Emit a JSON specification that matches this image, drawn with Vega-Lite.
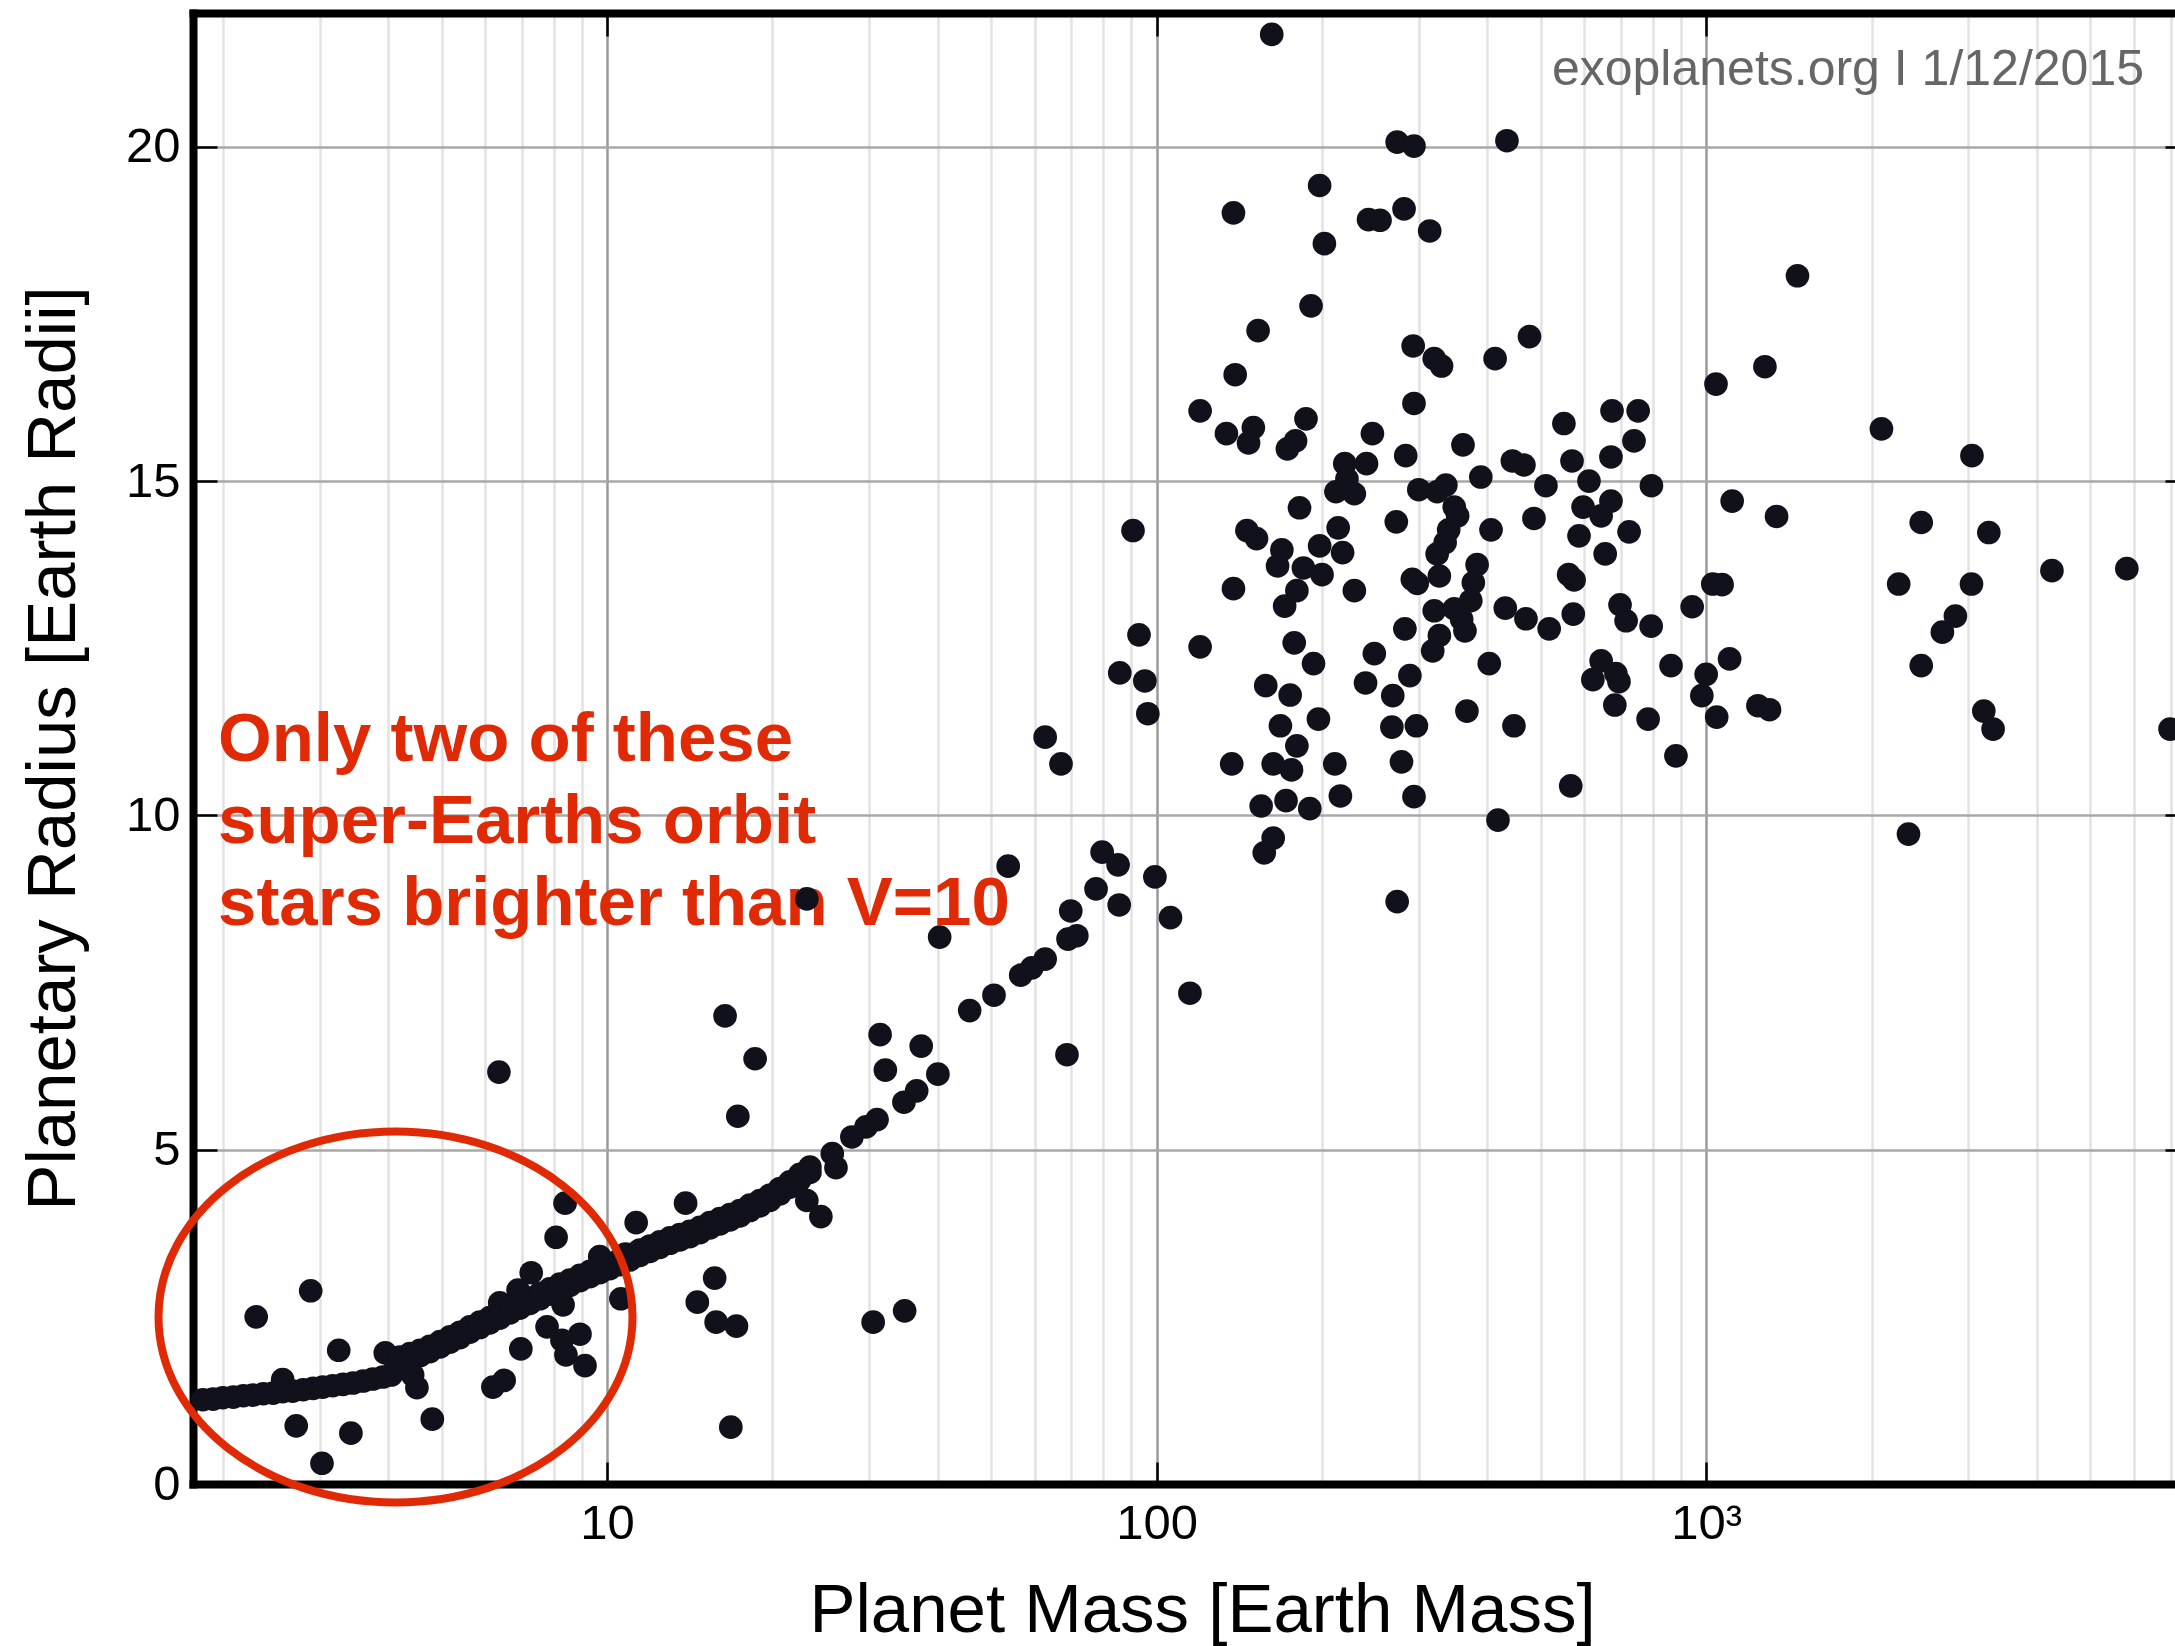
{
  "$schema": "https://vega.github.io/schema/vega-lite/v6.json",
  "width": 1982,
  "height": 1471,
  "autosize": {"type": "none"},
  "padding": {"left": 193, "top": 13, "right": 0, "bottom": 162},
  "background": "white",
  "config": {"view": {"stroke": null}, "font": "Liberation Sans"},
  "datasets": {
    "pts": [
      {"m":162,"r":21.68},{"m":274,"r":20.07},{"m":294,"r":20.01},{"m":434,"r":20.09},{"m":198,"r":19.42},{"m":138,"r":19.01},{"m":243,"r":18.91},{"m":255,"r":18.9},{"m":282,"r":19.07},{"m":314,"r":18.74},{"m":202,"r":18.55},{"m":191,"r":17.62},{"m":153,"r":17.25},{"m":477,"r":17.16},{"m":293,"r":17.02},{"m":320,"r":16.83},{"m":330,"r":16.72},{"m":413,"r":16.83},{"m":139,"r":16.59},{"m":120,"r":16.05},{"m":134,"r":15.71},{"m":150,"r":15.8},{"m":147,"r":15.57},{"m":187,"r":15.93},{"m":179,"r":15.6},{"m":173,"r":15.48},{"m":247,"r":15.71},{"m":294,"r":16.16},{"m":284,"r":15.38},{"m":220,"r":15.26},{"m":241,"r":15.26},{"m":361,"r":15.54},{"m":551,"r":15.86},{"m":674,"r":16.05},{"m":752,"r":16.05},{"m":739,"r":15.6},{"m":671,"r":15.36},{"m":570,"r":15.3},{"m":444,"r":15.3},{"m":466,"r":15.24},{"m":389,"r":15.06},{"m":336,"r":14.94},{"m":300,"r":14.87},{"m":324,"r":14.84},{"m":511,"r":14.93},{"m":612,"r":15.0},{"m":795,"r":14.93},{"m":212,"r":14.84},{"m":229,"r":14.81},{"m":222,"r":15.03},{"m":182,"r":14.6},{"m":597,"r":14.61},{"m":671,"r":14.7},{"m":644,"r":14.48},{"m":348,"r":14.61},{"m":353,"r":14.48},{"m":273,"r":14.39},{"m":214,"r":14.3},{"m":406,"r":14.27},{"m":486,"r":14.44},{"m":724,"r":14.24},{"m":587,"r":14.18},{"m":146,"r":14.26},{"m":152,"r":14.14},{"m":340,"r":14.27},{"m":198,"r":14.03},{"m":169,"r":13.97},{"m":1042,"r":16.45},
      {"m":218,"r":13.93},{"m":335,"r":14.08},{"m":324,"r":13.91},{"m":166,"r":13.73},{"m":185,"r":13.7},{"m":200,"r":13.6},{"m":138,"r":13.39},{"m":180,"r":13.36},{"m":171,"r":13.13},{"m":229,"r":13.36},{"m":292,"r":13.53},{"m":298,"r":13.47},{"m":327,"r":13.58},{"m":383,"r":13.75},{"m":377,"r":13.48},{"m":373,"r":13.21},{"m":320,"r":13.06},{"m":348,"r":13.09},{"m":359,"r":12.93},{"m":364,"r":12.76},{"m":327,"r":12.69},{"m":318,"r":12.46},{"m":283,"r":12.79},{"m":431,"r":13.1},{"m":470,"r":12.94},{"m":518,"r":12.79},{"m":573,"r":13.01},{"m":562,"r":13.6},{"m":575,"r":13.52},{"m":697,"r":13.15},{"m":715,"r":12.91},{"m":794,"r":12.83},{"m":943,"r":13.12},{"m":1028,"r":13.46},{"m":1069,"r":13.45},{"m":655,"r":13.91},{"m":403,"r":12.27},{"m":644,"r":12.31},{"m":622,"r":12.03},{"m":685,"r":12.12},{"m":694,"r":12.0},{"m":682,"r":11.65},{"m":863,"r":12.24},{"m":1000,"r":12.11},{"m":982,"r":11.79},{"m":1045,"r":11.47},{"m":784,"r":11.44},{"m":881,"r":10.89},{"m":567,"r":10.44},{"m":447,"r":11.34},{"m":367,"r":11.56},{"m":418,"r":9.93},{"m":289,"r":12.09},{"m":269,"r":11.79},{"m":249,"r":12.42},{"m":240,"r":11.98},{"m":268,"r":11.32},{"m":297,"r":11.34},{"m":279,"r":10.8},{"m":294,"r":10.28},{"m":274,"r":8.71},{"m":178,"r":12.58},{"m":193,"r":12.27},{"m":120,"r":12.52},{"m":158,"r":11.94},{"m":175,"r":11.8},{"m":197,"r":11.44},{"m":168,"r":11.34},{"m":180,"r":11.04},{"m":137,"r":10.77},{"m":163,"r":10.77},{"m":176,"r":10.68},{"m":211,"r":10.77},{"m":155,"r":10.14},{"m":172,"r":10.22},{"m":190,"r":10.1},{"m":216,"r":10.29},{"m":163,"r":9.66},{"m":157,"r":9.44},{"m":106,"r":8.47},{"m":115,"r":7.34},
      {"m":1466,"r":18.07},{"m":1279,"r":16.71},{"m":2084,"r":15.78},{"m":3045,"r":15.38},{"m":1115,"r":14.7},{"m":1343,"r":14.47},{"m":2462,"r":14.38},{"m":3268,"r":14.23},{"m":4257,"r":13.66},{"m":5826,"r":13.69},{"m":2240,"r":13.46},{"m":3039,"r":13.46},{"m":2841,"r":12.98},{"m":2690,"r":12.74},{"m":2462,"r":12.24},{"m":3200,"r":11.56},{"m":3327,"r":11.29},{"m":6982,"r":11.29},{"m":2334,"r":9.72},{"m":1103,"r":12.34},{"m":1242,"r":11.64},{"m":1304,"r":11.58},
      {"m":85.7,"r":12.13},{"m":95.2,"r":12.01},{"m":96.4,"r":11.52},{"m":62.7,"r":11.17},{"m":67,"r":10.77},{"m":23.1,"r":8.75},{"m":53.7,"r":9.24},{"m":79.6,"r":9.45},{"m":85.1,"r":9.26},{"m":99.3,"r":9.08},{"m":77.6,"r":8.9},{"m":85.5,"r":8.66},{"m":69.8,"r":8.57},{"m":69,"r":8.15},{"m":71.6,"r":8.2},{"m":62.7,"r":7.85},{"m":59.3,"r":7.72},{"m":56.6,"r":7.61},{"m":50.6,"r":7.31},{"m":45.7,"r":7.08},{"m":40.3,"r":8.18},{"m":68.7,"r":6.42},{"m":16.4,"r":7.0},{"m":18.6,"r":6.36},{"m":17.3,"r":5.5},{"m":31.4,"r":6.72},{"m":32.1,"r":6.19},{"m":37.3,"r":6.55},{"m":40,"r":6.13},{"m":36.6,"r":5.88},{"m":34.7,"r":5.71},{"m":31,"r":5.45},{"m":29.6,"r":5.34},{"m":27.9,"r":5.19},{"m":25.7,"r":4.94},{"m":26.1,"r":4.73},{"m":23.1,"r":4.24},{"m":13.9,"r":4.2},{"m":90.6,"r":14.26},{"m":92.9,"r":12.7},
      {"m":11.3,"r":3.91},{"m":24.5,"r":4.0},{"m":15.7,"r":3.08},{"m":14.6,"r":2.72},{"m":15.8,"r":2.42},{"m":17.2,"r":2.36},{"m":10.6,"r":2.77},{"m":16.8,"r":0.85},{"m":30.5,"r":2.42},{"m":34.8,"r":2.59},
      {"m":6.36,"r":6.16},{"m":2.3,"r":2.5},{"m":2.89,"r":2.89},{"m":3.25,"r":2.0},{"m":8.39,"r":4.2},{"m":8.08,"r":3.69},{"m":7.28,"r":3.16},{"m":8.32,"r":2.68},{"m":7.78,"r":2.35},{"m":8.93,"r":2.24},{"m":8.28,"r":2.15},{"m":8.42,"r":1.93},{"m":9.12,"r":1.77},{"m":6.97,"r":2.02},{"m":6.2,"r":1.45},{"m":6.5,"r":1.55},{"m":4.51,"r":1.44},{"m":4.81,"r":0.97},{"m":2.72,"r":0.87},{"m":3.42,"r":0.76},{"m":3.03,"r":0.31},{"m":6.89,"r":2.9},{"m":6.38,"r":2.71},{"m":3.95,"r":1.96},{"m":2.57,"r":1.56},{"m":4.43,"r":1.63},{"m":9.7,"r":3.4},{"m":10.8,"r":3.44},
      {"m":1.84,"r":1.26},{"m":1.92,"r":1.27},{"m":2.0,"r":1.29},{"m":2.09,"r":1.3},{"m":2.18,"r":1.32},{"m":2.27,"r":1.33},{"m":2.37,"r":1.35},{"m":2.47,"r":1.36},{"m":2.57,"r":1.38},{"m":2.68,"r":1.39},{"m":2.8,"r":1.41},{"m":2.92,"r":1.43},{"m":3.04,"r":1.45},{"m":3.17,"r":1.47},{"m":3.31,"r":1.49},{"m":3.45,"r":1.51},{"m":3.6,"r":1.54},{"m":3.75,"r":1.57},{"m":3.91,"r":1.6},{"m":4.05,"r":1.63},{"m":4.12,"r":1.72},{"m":4.15,"r":1.8},
      {"m":4.2,"r":1.9},{"m":4.38,"r":1.95},{"m":4.57,"r":2.0},{"m":4.76,"r":2.06},{"m":4.97,"r":2.13},{"m":5.18,"r":2.2},{"m":5.4,"r":2.27},{"m":5.63,"r":2.35},{"m":5.87,"r":2.42},{"m":6.12,"r":2.49},{"m":6.38,"r":2.56},{"m":6.66,"r":2.64},{"m":6.94,"r":2.71},{"m":7.24,"r":2.78},{"m":7.55,"r":2.85},{"m":7.87,"r":2.92},{"m":8.21,"r":2.99},{"m":8.56,"r":3.05},{"m":8.93,"r":3.12},{"m":9.31,"r":3.18},{"m":9.71,"r":3.24},{"m":10.12,"r":3.3},{"m":10.56,"r":3.36},{"m":11.01,"r":3.43},{"m":11.48,"r":3.5},{"m":11.97,"r":3.56},{"m":12.48,"r":3.62},{"m":13.02,"r":3.68},{"m":13.57,"r":3.73},{"m":14.15,"r":3.78},{"m":14.76,"r":3.84},{"m":15.39,"r":3.91},{"m":16.05,"r":3.97},{"m":16.74,"r":4.03},{"m":17.45,"r":4.09},{"m":18.2,"r":4.17},{"m":18.98,"r":4.24},{"m":19.79,"r":4.32},{"m":20.64,"r":4.42},{"m":21.52,"r":4.52},{"m":22.44,"r":4.63},{"m":23.4,"r":4.74},
      {"m":4.2,"r":1.82},{"m":4.38,"r":1.87},{"m":4.57,"r":1.92},{"m":4.76,"r":1.98},{"m":4.97,"r":2.05},{"m":5.18,"r":2.12},{"m":5.4,"r":2.19},{"m":5.63,"r":2.27},{"m":5.87,"r":2.34},{"m":6.12,"r":2.41},{"m":6.38,"r":2.48},{"m":6.66,"r":2.56},{"m":6.94,"r":2.63},{"m":7.24,"r":2.7},{"m":7.55,"r":2.77},{"m":7.87,"r":2.84},{"m":8.21,"r":2.91},{"m":8.56,"r":2.97},{"m":8.93,"r":3.04},{"m":9.31,"r":3.1},{"m":9.71,"r":3.16},{"m":10.12,"r":3.22},{"m":10.56,"r":3.28},{"m":11.01,"r":3.35},{"m":11.48,"r":3.42},{"m":11.97,"r":3.48},{"m":12.48,"r":3.54},{"m":13.02,"r":3.6},{"m":13.57,"r":3.65},{"m":14.15,"r":3.7},{"m":14.76,"r":3.76},{"m":15.39,"r":3.83},{"m":16.05,"r":3.89},{"m":16.74,"r":3.95},{"m":17.45,"r":4.01},{"m":18.2,"r":4.09},{"m":18.98,"r":4.16},{"m":19.79,"r":4.24},{"m":20.64,"r":4.34},{"m":21.52,"r":4.44},{"m":22.44,"r":4.55},{"m":23.4,"r":4.66}
    ],
    "note": [
      {"m": 1.96, "r": 10.82, "t": "Only two of these"},
      {"m": 1.96, "r": 9.59, "t": "super-Earths orbit"},
      {"m": 1.96, "r": 8.36, "t": "stars brighter than V=10"}
    ],
    "ring": [{"m": 4.123, "r": 2.498}],
    "src": [{"m": 6262, "r": 20.92, "t": "exoplanets.org I 1/12/2015"}]
  },
  "layer": [
    {
      "data": {"name": "note"},
      "mark": {"type": "text", "align": "left", "baseline": "alphabetic", "font": "Liberation Sans", "fontSize": 69, "fontWeight": "bold", "color": "#e02a06"},
      "encoding": {
        "x": {"field": "m", "type": "quantitative", "scale": {"type": "log", "domain": [1.765, 7129], "nice": false}, "axis": null},
        "y": {"field": "r", "type": "quantitative", "scale": {"domain": [0, 22], "nice": false, "zero": false}, "axis": null},
        "text": {"field": "t"}
      }
    },
    {
      "data": {"name": "pts"},
      "mark": {"type": "circle", "size": 560, "color": "#11111c", "opacity": 1},
      "encoding": {
        "x": {
          "field": "m", "type": "quantitative",
          "scale": {"type": "log", "domain": [1.765, 7129], "nice": false},
          "axis": {
            "values": [2,3,4,5,6,7,8,9,10,20,30,40,50,60,70,80,90,100,200,300,400,500,600,700,800,900,1000,2000,3000,4000,5000,6000,7000],
            "labelExpr": "datum.value == 10 ? '10' : datum.value == 100 ? '100' : datum.value == 1000 ? '10³' : ''",
            "grid": true,
            "gridColor": {"condition": {"test": "datum.value == 10 || datum.value == 100 || datum.value == 1000", "value": "#9a9a9a"}, "value": "#e2e2e2"},
            "gridWidth": 2.5,
            "ticks": true,
            "tickColor": {"condition": {"test": "datum.value == 10 || datum.value == 100 || datum.value == 1000", "value": "#000000"}, "value": "transparent"},
            "tickSize": -22,
            "tickWidth": 2.5,
            "domain": true, "domainColor": "#000000", "domainWidth": 8, "domainCap": "square",
            "labelFont": "Liberation Sans", "labelFontSize": 49, "labelColor": "#000000", "labelPadding": 37.8, "labelFlush": false, "labelOverlap": false,
            "title": "Planet Mass [Earth Mass]",
            "titleFont": "Liberation Sans", "titleFontSize": 69, "titleFontWeight": "normal", "titleColor": "#000000",
            "titleX": 1009, "titleY": 147.7, "titleBaseline": "alphabetic", "titleAlign": "center"
          }
        },
        "y": {
          "field": "r", "type": "quantitative",
          "scale": {"domain": [0, 22], "nice": false, "zero": false},
          "axis": {
            "values": [0, 5, 10, 15, 20],
            "grid": true, "gridColor": "#a8a8a8", "gridWidth": 2.5,
            "tickSize": -24, "tickWidth": 2.5, "tickColor": "#000000",
            "domain": true, "domainColor": "#000000", "domainWidth": 8, "domainCap": "square",
            "labelFont": "Liberation Sans", "labelFontSize": 49, "labelColor": "#000000", "labelPadding": 37,
            "title": "Planetary Radius [Earth Radii]",
            "titleFont": "Liberation Sans", "titleFontSize": 69, "titleFontWeight": "normal", "titleColor": "#000000",
            "titleX": -119, "titleY": 735, "titleAngle": 270, "titleBaseline": "alphabetic", "titleAlign": "center"
          }
        }
      }
    },
    {
      "data": {"name": "ring"},
      "mark": {"type": "point", "shape": "M-1,0A1,0.7827,0,1,1,1,0A1,0.7827,0,1,1,-1,0Z", "size": 224676, "filled": false, "color": "#e02a06", "strokeWidth": 8, "opacity": 1},
      "encoding": {
        "x": {"field": "m", "type": "quantitative", "scale": {"type": "log", "domain": [1.765, 7129], "nice": false}, "axis": null},
        "y": {"field": "r", "type": "quantitative", "scale": {"domain": [0, 22], "nice": false, "zero": false}, "axis": null}
      }
    },
    {
      "data": {"name": "src"},
      "mark": {"type": "text", "align": "right", "baseline": "alphabetic", "font": "Liberation Sans", "fontSize": 50, "color": "#666666"},
      "encoding": {
        "x": {
          "field": "m", "type": "quantitative",
          "scale": {"type": "log", "domain": [1.765, 7129], "nice": false},
          "axis": {"orient": "top", "values": [10, 100, 1000], "labels": false, "grid": false, "ticks": true, "tickSize": -23, "tickWidth": 2.5, "tickColor": "#000000", "domain": true, "domainColor": "#000000", "domainWidth": 8, "domainCap": "square", "title": null}
        },
        "y": {
          "field": "r", "type": "quantitative",
          "scale": {"domain": [0, 22], "nice": false, "zero": false},
          "axis": {"orient": "right", "values": [5, 10, 15, 20], "labels": false, "grid": false, "domain": false, "ticks": true, "tickSize": -10, "tickWidth": 2.5, "tickColor": "#000000", "title": null}
        },
        "text": {"field": "t"}
      }
    }
  ],
  "resolve": {"axis": {"x": "independent", "y": "independent"}}
}
